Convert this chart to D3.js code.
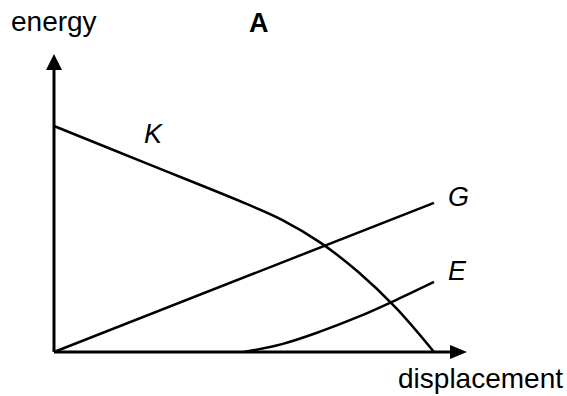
<!DOCTYPE html>
<html>
<head>
<meta charset="utf-8">
<script src="https://cdn.jsdelivr.net/npm/d3@7"></script>
<style>
    body { margin: 0; background: #fff; }
    svg text { font-family: Arial, "Liberation Sans", sans-serif; fill: #000; }
</style>
</head>
<body>
<div id="chart"></div>
<script>
// curves (displacement 0-100, energy 0-100)
var kPoints = [[0, 100], [25, 83], [50, 66], [60, 58.5], [70, 48.5], [80, 35.5], [90, 19.5], [100, 0]];
var gPoints = [[0, 0], [100, 66]];
var ePoints = [[50, 0], [60, 3.5], [70, 9], [80, 15.5], [90, 23], [100, 31]];
var curveLabels = ["K", "G", "E"];

var width = 567, height = 396;

var svg = d3.select("#chart")
    .append("svg")
    .attr("width", width)
    .attr("height", height);

var x = d3.scaleLinear().domain([0, 100]).range([54, 434]);
var y = d3.scaleLinear().domain([0, 100]).range([352, 126]);

// axes with arrow heads
var xTip = 467, yTip = 54;
svg.append("line")
    .attr("x1", x(0)).attr("y1", y(0))
    .attr("x2", xTip - 14).attr("y2", y(0))
    .attr("stroke", "#000").attr("stroke-width", 3);
svg.append("path")
    .attr("d", "M" + xTip + "," + y(0) + "L" + (xTip - 17) + "," + (y(0) - 7) + "L" + (xTip - 17) + "," + (y(0) + 7) + "Z")
    .attr("fill", "#000");

svg.append("line")
    .attr("x1", x(0)).attr("y1", y(0))
    .attr("x2", x(0)).attr("y2", yTip + 14)
    .attr("stroke", "#000").attr("stroke-width", 3);
svg.append("path")
    .attr("d", "M" + x(0) + "," + yTip + "L" + (x(0) - 8) + "," + (yTip + 16) + "L" + (x(0) + 8) + "," + (yTip + 16) + "Z")
    .attr("fill", "#000");

// the three curves
var line = d3.line()
    .x(function (d) { return x(d[0]); })
    .y(function (d) { return y(d[1]); })
    .curve(d3.curveCatmullRom.alpha(0.5));

[kPoints, gPoints, ePoints].forEach(function (pts) {
    svg.append("path")
        .datum(pts)
        .attr("d", line)
        .attr("fill", "none")
        .attr("stroke", "#000")
        .attr("stroke-width", 2.5);
});

// labels
svg.append("text").attr("x", 11).attr("y", 31)
    .style("font-size", "28px").text("energy");
svg.append("text").attr("x", 249).attr("y", 32)
    .style("font-size", "27px").style("font-weight", "bold").text("A");
svg.append("text").attr("x", 563).attr("y", 388)
    .attr("text-anchor", "end")
    .style("font-size", "28px").text("displacement");

var labelPos = [[144, 143], [448, 206], [448, 280]];
curveLabels.forEach(function (t, i) {
    svg.append("text")
        .attr("x", labelPos[i][0]).attr("y", labelPos[i][1])
        .style("font-size", "27px").style("font-style", "italic")
        .text(t);
});
</script>
</body>
</html>
